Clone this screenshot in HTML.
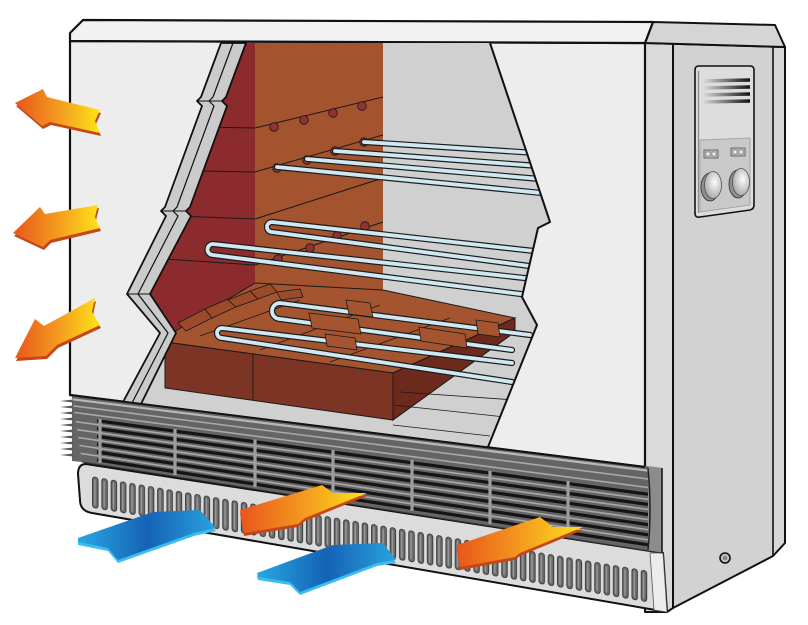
<!DOCTYPE html>
<html><head><meta charset="utf-8">
<style>html,body{margin:0;padding:0;background:#fff;}svg{display:block}</style>
</head>
<body>
<svg width="808" height="625" viewBox="0 0 808 625" xmlns="http://www.w3.org/2000/svg">
<defs>
 <linearGradient id="og" x1="0" y1="0" x2="1" y2="0">
  <stop offset="0" stop-color="#e8561b"/><stop offset="0.55" stop-color="#f5a01f"/><stop offset="1" stop-color="#fde41a"/>
 </linearGradient>
 <linearGradient id="bg" x1="0" y1="0" x2="1" y2="0">
  <stop offset="0" stop-color="#2aa8e2"/><stop offset="0.5" stop-color="#1462b5"/><stop offset="1" stop-color="#2aa3de"/>
 </linearGradient>
 <clipPath id="cut"><path d="M221,43 L490,43 L550,222 L538,228 L522,297 L537,325 L488,447 L123,402 L160,333 L127,294 L166,216 L161,211 L165,207 L202,106 L197,101 L201,97 Z"/></clipPath>
 <pattern id="slots" width="9.3" height="80" patternUnits="userSpaceOnUse">
  <rect x="0.5" y="0.5" width="5.6" height="31" rx="2.8" fill="#6b6b6b" stroke="#2e2e2e" stroke-width="0.8"/>
  <rect x="2.2" y="3" width="1.4" height="26" rx="0.7" fill="#9a9a9a"/>
 </pattern>
 <linearGradient id="vent" x1="0" x2="1"><stop offset="0" stop-color="#e4e4e4"/><stop offset="1" stop-color="#111"/></linearGradient>
 <radialGradient id="knob" cx="0.6" cy="0.4" r="0.75"><stop offset="0" stop-color="#fbfbfb"/><stop offset="1" stop-color="#9a9a9a"/></radialGradient>
</defs>

<!-- side panel -->
<polygon points="645,43 785,47 785,543 773,556 673,608 667,612 645,612" fill="#d2d2d2"/>
<polygon points="645,43 673,44 673,608 645,612" fill="#dadada"/>
<polygon points="773,46.5 785,47 785,543 773,556" fill="#d8d8d8"/>
<path d="M673,44 L673,608" stroke="#111" stroke-width="2" fill="none"/>
<path d="M773,46 L773,556" stroke="#111" stroke-width="1.6" fill="none"/>
<polygon points="645,43 785,47 785,543 773,556 673,608 667,612 645,612" fill="none" stroke="#111" stroke-width="2" stroke-linejoin="round"/>
<polygon points="653,22 775,25 785,47 645,43" fill="#d5d5d5" stroke="#111" stroke-width="2" stroke-linejoin="round"/>

<!-- front face -->
<polygon points="70,41 645,43 645,467 70,395" fill="#ededed" stroke="#111" stroke-width="2.2" stroke-linejoin="round"/>
<!-- top face -->
<polygon points="70,41 70,33 83,20 653,22 645,43" fill="#f2f2f2" stroke="#111" stroke-width="2.2" stroke-linejoin="round"/>

<!-- cutaway interior -->
<g clip-path="url(#cut)">
 <rect x="100" y="40" width="470" height="420" fill="#d0d0d0"/>
 <polygon points="120,43 255,43 255,285 176,332 120,332" fill="#8c2b2e"/>
 <g stroke="#1a1a1a" stroke-width="1" fill="none">
  <path d="M150,126 L255,128"/><path d="M150,170 L255,172"/><path d="M150,215 L255,219"/><path d="M150,258 L255,265"/>
 </g>
 <polygon points="255,43 383,43 383,292 255,285" fill="#a3532e"/>
 <g stroke="#1a1a1a" stroke-width="1" fill="none">
  <path d="M255,128 L383,97"/><path d="M255,172 L383,135"/><path d="M255,219 L383,178"/><path d="M255,265 L383,222"/>
 </g>
 <g fill="#8e3232" stroke="#1a1a1a" stroke-width="0.8">
  <circle cx="274" cy="127" r="4.3"/><circle cx="304" cy="120" r="4.3"/><circle cx="333" cy="113" r="4.3"/><circle cx="362" cy="106" r="4.3"/>
  <circle cx="277" cy="168" r="4.3"/><circle cx="307" cy="160" r="4.3"/><circle cx="335" cy="151" r="4.3"/><circle cx="364" cy="142" r="4.3"/>
  <circle cx="278" cy="259" r="4.3"/><circle cx="310" cy="248" r="4.3"/><circle cx="337" cy="236" r="4.3"/><circle cx="365" cy="226" r="4.3"/>
 </g>
 <polygon points="165,342 393,373 515,318 383,290 255,283 172,333" fill="#a4542f" stroke="#1a1a1a" stroke-width="1"/>
 <polygon points="165,342 393,373 393,420 165,388" fill="#7c3525" stroke="#1a1a1a" stroke-width="1"/>
 <path d="M253,354 L253,400" stroke="#1a1a1a" stroke-width="1"/>
 <polygon points="393,373 515,318 515,332 393,420" fill="#6c2a1c" stroke="#1a1a1a" stroke-width="1"/>
 <g fill="#9b4a2a" stroke="#1a1a1a" stroke-width="0.8">
  <polygon points="178,323 205,309 212,318 186,331"/>
  <polygon points="205,309 228,299 236,307 212,318"/>
  <polygon points="228,300 250,291 258,299 236,307"/>
  <polygon points="250,291 270,284 277,292 258,299"/>
  <polygon points="277,292 300,289 303,297 281,300"/>
 </g>
 <g stroke="#1a1a1a" stroke-width="0.8" fill="none">
  <path d="M200,336 L300,300"/><path d="M260,350 L380,305"/><path d="M330,362 L450,318"/>
  <path d="M393,405 L505,417"/><path d="M393,425 L490,436"/><path d="M400,392 L515,400"/>
 </g>
 <g fill="none" stroke-linecap="round" stroke-linejoin="round">
  <g stroke="#1c1c1c" stroke-width="6.2">
   <path d="M277,167 L552,194"/><path d="M307,159 L552,180"/><path d="M335,151 L552,167"/><path d="M364,142 L552,154"/>
   <path d="M552,253 L272,222 A5,5 0 0 0 272,232 L552,269"/>
   <path d="M552,281 L213,244 A5.5,5.5 0 0 0 213,255 L552,298"/>
   <path d="M530,335 L280,303 A8,8 0 0 0 280,319 L512,350"/>
   <path d="M512,363 L222,328 A5,5 0 0 0 222,338 L512,382"/>
  </g>
  <g stroke="#cfe8f2" stroke-width="3.8">
   <path d="M277,167 L552,194"/><path d="M307,159 L552,180"/><path d="M335,151 L552,167"/><path d="M364,142 L552,154"/>
   <path d="M552,253 L272,222 A5,5 0 0 0 272,232 L552,269"/>
   <path d="M552,281 L213,244 A5.5,5.5 0 0 0 213,255 L552,298"/>
   <path d="M530,335 L280,303 A8,8 0 0 0 280,319 L512,350"/>
   <path d="M512,363 L222,328 A5,5 0 0 0 222,338 L512,382"/>
  </g>
 </g>
 <g fill="#a4542f" stroke="#1a1a1a" stroke-width="0.8">
  <polygon points="346,300 370,303 373,317 349,314"/>
  <polygon points="476,320 498,323 500,337 478,334"/>
  <polygon points="309,313 358,319 361,334 312,328"/>
  <polygon points="419,327 465,334 467,348 421,341"/>
  <polygon points="325,334 355,338 357,350 327,346"/>
 </g>
</g>
<polyline points="490,43 550,222 538,228 522,297 537,325 488,447" fill="none" stroke="#111" stroke-width="2" stroke-linejoin="round"/>
<polygon points="221,43 201,97 197,101 202,106 165,207 161,211 166,216 127,294 160,333 123,402 141,404 176,333 150,294 191,216 186,211 190,207 227,106 222,101 226,97 246,43" fill="#cbcbcb" stroke="#111" stroke-width="1.8" stroke-linejoin="round"/>
<polyline points="233,43 213,97 209,101 214,106 177,207 173,211 178,216 138,294 168,333 132,403" fill="none" stroke="#111" stroke-width="1.2"/>
<g stroke="#111" stroke-width="1.1"><path d="M197,101 L222,101"/><path d="M161,211 L186,211"/><path d="M127,294 L150,294"/></g>

<!-- plinth -->
<path d="M86,464 L663,553 L667,612 L92,513 Q80,511 80,500 L78,474 Q78,464 86,464 Z" fill="#dcdcdc" stroke="#111" stroke-width="2" stroke-linejoin="round"/>
<g transform="translate(92,476) skewY(9.65)"><rect x="0" y="0" width="556" height="32" fill="url(#slots)"/></g>
<polygon points="650,553 663,553 667,612 654,610" fill="#ececec" stroke="#555" stroke-width="0.8"/>

<!-- grille -->
<polygon points="72,396 662,468 662,553 82,462 72,461" fill="#656565"/>
<g fill="#5a5a5a">
 <polygon points="60,401 73,399.5 73,402.5"/><polygon points="60,407 73,405.5 73,408.5"/><polygon points="60,413 73,411.5 73,414.5"/>
 <polygon points="60,419 73,417.5 73,420.5"/><polygon points="60,425 73,423.5 73,426.5"/><polygon points="60,431 73,429.5 73,432.5"/>
 <polygon points="60,437 73,435.5 73,438.5"/><polygon points="60,443 73,441.5 73,444.5"/><polygon points="60,449 73,447.5 73,450.5"/>
 <polygon points="60,455 73,453.5 73,456.5"/>
</g>
<g stroke="#a9a9a9" stroke-width="1.6" fill="none">
 <path d="M72.5,399.3 L662,472.3" stroke="#b8b8b8" stroke-width="2.2"/>
 <path d="M73.5,405.9 L662,480.8"/><path d="M74.5,412.5 L662,489.3"/><path d="M75.9,421.7 L662,501.2"/>
 <path d="M77.1,429.7 L662,511.4"/><path d="M78.3,437.6 L662,521.6"/><path d="M79.5,445.5 L662,531.8"/><path d="M80.7,453.4 L662,542"/>
</g>
<g stroke="#141414" stroke-width="3.2" fill="none">
 <path d="M97,420.7 L648,494.2"/><path d="M97,428.5 L648,504.4"/><path d="M97,436.3 L648,514.5"/>
 <path d="M97,444.1 L648,524.7"/><path d="M97,452 L648,534.8"/><path d="M97,459.8 L648,544.8"/>
</g>
<g stroke="#9d9d9d" stroke-width="3.2">
 <path d="M100,419 L100,463"/><path d="M175,429 L175,475"/><path d="M255,439.5 L255,487"/><path d="M333,450 L333,499"/>
 <path d="M412,460 L412,511"/><path d="M490,471 L490,524"/><path d="M568,481 L568,536"/>
</g>
<polygon points="648,466 662,468 662,553 648,551" fill="#8c8c8c"/>
<path d="M648,468 Q652,510 648,550" stroke="#222" stroke-width="1.5" fill="none"/>
<path d="M662,468 L662,553" stroke="#111" stroke-width="1.5"/>
<path d="M70,395 L645,467" stroke="#111" stroke-width="2"/>
<path d="M82,462 L662,553" stroke="#333" stroke-width="1"/>

<!-- left arrows -->
<g>
 <polygon points="15,103 43,89 47,97 100,110 95,121 100,133 50,122 42,126" fill="#c4461b" transform="translate(1,3)"/>
 <polygon points="15,103 43,89 47,97 100,110 95,121 100,133 50,122 42,126" fill="url(#og)"/>
 <polygon points="13,233 40,207 45,214 98,205 95,217 100,228 50,240 43,247" fill="#c4461b" transform="translate(1,3)"/>
 <polygon points="13,233 40,207 45,214 98,205 95,217 100,228 50,240 43,247" fill="url(#og)"/>
 <polygon points="15,358 35,319 44,326 95,298 92,312 100,325 57,345 46,356" fill="#c4461b" transform="translate(1,3)"/>
 <polygon points="15,358 35,319 44,326 95,298 92,312 100,325 57,345 46,356" fill="url(#og)"/>
</g>
<!-- blue arrows -->
<g>
 <polygon points="78,538 153,512 200,510 216,528 194,533 118,560 108,548 78,542" fill="#3cbdf0" transform="translate(0,3)"/>
 <polygon points="78,538 153,512 200,510 216,528 194,533 118,560 108,548 78,542" fill="url(#bg)"/>
 <polygon points="257,573 333,545 383,543 396,560 377,563 300,592 290,582 258,577" fill="#3cbdf0" transform="translate(0,3)"/>
 <polygon points="257,573 333,545 383,543 396,560 377,563 300,592 290,582 258,577" fill="url(#bg)"/>
</g>
<!-- bottom orange arrows -->
<g>
 <polygon points="240,510 322,485 333,493 367,493 305,518 298,524 244,533" fill="#c4461b" transform="translate(0,3)"/>
 <polygon points="240,510 322,485 333,493 367,493 305,518 298,524 244,533" fill="url(#og)"/>
 <polygon points="457,545 540,517 553,527 583,527 520,553 515,557 460,567" fill="#c4461b" transform="translate(0,3)"/>
 <polygon points="457,545 540,517 553,527 583,527 520,553 515,557 460,567" fill="url(#og)"/>
</g>

<!-- control panel -->
<path d="M699,66 L750,66 Q754,66 754,70 L754,205 Q754,209 750,210 L700,217 Q695,218 695,213 L695,70 Q695,66 699,66 Z" fill="#dddddd" stroke="#111" stroke-width="1.6"/>
<path d="M698.5,71 L698.5,213" stroke="#8a8a8a" stroke-width="1.2"/>
<g stroke="url(#vent)" stroke-width="3.6">
 <path d="M701,81 L750,80"/><path d="M701,88 L750,87"/><path d="M701,95 L750,94"/><path d="M701,102 L750,101"/>
</g>
<polygon points="700,140 750,138 750,205 700,212" fill="#c9c9c9" stroke="#a5a5a5" stroke-width="1"/>
<rect x="704" y="150" width="14" height="8" fill="#bdbdbd" stroke="#555" stroke-width="0.8"/>
<rect x="706" y="152" width="4" height="4" fill="#eee" stroke="#555" stroke-width="0.5"/><rect x="712" y="152" width="4" height="4" fill="#eee" stroke="#555" stroke-width="0.5"/>
<rect x="731" y="148" width="14" height="8" fill="#bdbdbd" stroke="#555" stroke-width="0.8"/>
<rect x="733" y="150" width="4" height="4" fill="#eee" stroke="#555" stroke-width="0.5"/><rect x="739" y="150" width="4" height="4" fill="#eee" stroke="#555" stroke-width="0.5"/>
<ellipse cx="710" cy="187" rx="9" ry="14" fill="#8d8d8d" stroke="#333" stroke-width="0.8"/>
<ellipse cx="713" cy="185" rx="8.5" ry="13.5" fill="url(#knob)" stroke="#555" stroke-width="0.8"/>
<ellipse cx="738" cy="184" rx="9" ry="14" fill="#8d8d8d" stroke="#333" stroke-width="0.8"/>
<ellipse cx="741" cy="182" rx="8.5" ry="13.5" fill="url(#knob)" stroke="#555" stroke-width="0.8"/>

<circle cx="725" cy="558" r="5" fill="#c2c2c2" stroke="#111" stroke-width="1.6"/>
<circle cx="725" cy="558" r="2.3" fill="#888"/>
</svg>
</body></html>
